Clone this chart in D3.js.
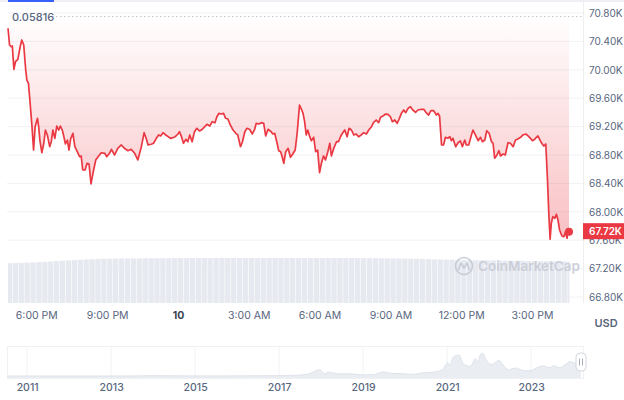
<!DOCTYPE html>
<html><head><meta charset="utf-8">
<script src="https://cdn.jsdelivr.net/npm/d3@7"></script>
<style>
html,body{margin:0;padding:0;background:#fff;}
svg{display:block;font-family:Inter,"Noto Sans",sans-serif;}
</style></head>
<body>
<svg id="c" width="624" height="400"></svg>
<script>
// ---------- DATA ----------
const priceTimes = ["09 16:48","09 16:52","09 16:56","09 16:59","09 17:03","09 17:07","09 17:13","09 17:19","09 17:23","09 17:28","09 17:33","09 17:36","09 17:40","09 17:45","09 17:49","09 17:53","09 17:57","09 18:03","09 18:06","09 18:09","09 18:14","09 18:19","09 18:23","09 18:28","09 18:34","09 18:38","09 18:42","09 18:47","09 18:52","09 18:57","09 19:01","09 19:06","09 19:10","09 19:14","09 19:19","09 19:23","09 19:27","09 19:33","09 19:38","09 19:44","09 19:50","09 19:54","09 19:58","09 20:04","09 20:09","09 20:14","09 20:19","09 20:24","09 20:31","09 20:37","09 20:45","09 20:54","09 20:59","09 21:06","09 21:11","09 21:19","09 21:27","09 21:36","09 21:44","09 21:53","09 22:01","09 22:10","09 22:18","09 22:27","09 22:34","09 22:40","09 22:44","09 22:52","09 22:58","09 23:05","09 23:11","09 23:16","09 23:22","09 23:29","09 23:35","09 23:41","09 23:47","09 23:53",
"10 00:00","10 00:04","10 00:09","10 00:14","10 00:20","10 00:25","10 00:30","10 00:36","10 00:42","10 00:48","10 00:55","10 01:02","10 01:08","10 01:14","10 01:21","10 01:27","10 01:34","10 01:39","10 01:44","10 01:50","10 01:56","10 02:01","10 02:07","10 02:13","10 02:20","10 02:27","10 02:32","10 02:39","10 02:44","10 02:50","10 02:55","10 03:02","10 03:09","10 03:15","10 03:19","10 03:26","10 03:32","10 03:38","10 03:43","10 03:49","10 03:57","10 04:01","10 04:06","10 04:12","10 04:16","10 04:21","10 04:25","10 04:29","10 04:34","10 04:40","10 04:46","10 04:52","10 04:58","10 05:03","10 05:09","10 05:14","10 05:18","10 05:22","10 05:26","10 05:30","10 05:35","10 05:39","10 05:45","10 05:50","10 05:55","10 06:00","10 06:05","10 06:10","10 06:15","10 06:21","10 06:26","10 06:30","10 06:36","10 06:43","10 06:48","10 06:54","10 06:59","10 07:04","10 07:10","10 07:15","10 07:21","10 07:27","10 07:33","10 07:39","10 07:46","10 07:52","10 07:59","10 08:05","10 08:12","10 08:17","10 08:24","10 08:30","10 08:35","10 08:41","10 08:48","10 08:54","10 09:00","10 09:05","10 09:11","10 09:17","10 09:22","10 09:28","10 09:34","10 09:39","10 09:45","10 09:51","10 09:57","10 10:04","10 10:10","10 10:19","10 10:25","10 10:31","10 10:37","10 10:43","10 10:50","10 10:57","10 11:01","10 11:05","10 11:10","10 11:15","10 11:20","10 11:26","10 11:31","10 11:35","10 11:39","10 11:46","10 11:52","10 11:58","10 12:03","10 12:09","10 12:13","10 12:19","10 12:26","10 12:30","10 12:36","10 12:43","10 12:49","10 12:54","10 13:00","10 13:05","10 13:11","10 13:17","10 13:21","10 13:25","10 13:31","10 13:36","10 13:40","10 13:46","10 13:52","10 13:59","10 14:05","10 14:12","10 14:18","10 14:24","10 14:31","10 14:37","10 14:44","10 14:50","10 14:56","10 15:01","10 15:07","10 15:11","10 15:15","10 15:21","10 15:26","10 15:30","10 15:35","10 15:39","10 15:43","10 15:46","10 15:49","10 15:53","10 15:58","10 16:02","10 16:06","10 16:10","10 16:16","10 16:21","10 16:25","10 16:29","10 16:32","10 16:34"];
const prices = [70585,70349,70325,70335,70007,70114,70148,70325,70420,70349,69997,69856,69810,69480,69199,68870,69199,69317,69199,69011,68832,68965,69152,69082,68917,68987,69152,69035,69208,69152,69208,69152,69058,68955,69011,68870,69021,69106,68917,68846,68776,68786,68589,68589,68683,68673,68392,68542,68730,68776,68832,68824,68776,68824,68880,68800,68894,68941,68894,68861,68880,68824,68730,68917,69114,69021,68941,68951,68965,69035,69082,69068,69114,69082,69058,69035,69044,69058,
69096,69128,69058,68965,69021,68987,69082,68987,69128,69176,69138,69162,69199,69232,69208,69269,69255,69339,69387,69377,69387,69317,69307,69223,69152,69106,69082,68917,68987,69128,69176,69162,69096,69162,69246,69237,69255,69246,69068,69162,69128,69096,69106,68965,68861,68846,68776,68683,68846,68894,68768,68814,68870,69106,69504,69444,69387,69269,69082,69152,69058,69001,69049,68846,68870,68551,68692,68786,68730,68846,68965,68786,68894,68987,68987,69068,69114,69152,69058,69176,69152,69082,69096,69058,69082,69114,69096,69152,69199,69255,69293,69255,69331,69349,69377,69373,69339,69269,69293,69246,69303,69387,69434,69396,69458,69480,69434,69401,69434,69444,69444,69396,69363,69424,69424,69363,69387,69349,68941,68941,69049,69035,69058,69001,69035,68917,68973,68997,68917,69011,68941,68941,69082,69152,69082,69001,69049,68987,69011,69142,69106,68987,68965,68754,68800,68861,68786,68814,68800,68973,68965,68917,69011,69025,69049,69082,69096,69068,69035,69001,69021,69049,69068,69001,68955,68927,68955,68494,67931,67613,67838,67931,67908,67965,67884,67744,67659,67649,67720,67627,67744,67720];

// 24h volume (billions USD), one value per 15 minutes starting 16:45
const volumeStart = "09 16:45";
const volumes = [39.8,40.0,40.1,40.3,40.6,40.9,41.2,41.5,41.9,42.3,42.6,43.0,43.3,43.6,43.8,44.0,
44.2,44.3,44.4,44.5,44.5,44.6,44.6,44.7,44.7,44.8,44.8,44.8,44.9,44.9,44.9,45.0,
45.0,45.0,45.0,45.1,45.1,45.1,45.1,45.0,45.0,45.0,45.0,45.0,45.1,45.1,45.1,45.0,
45.0,45.0,44.9,44.9,44.9,44.9,45.0,45.0,45.0,45.0,45.0,44.9,44.9,44.8,44.8,44.7,
44.7,44.6,44.5,44.4,44.3,44.2,44.0,43.9,43.7,43.6,43.4,43.3,43.2,43.1,43.0,42.9,
42.8,42.7,42.6,42.5,42.4,42.3,42.2,42.1,42.0,41.9,41.8,41.8,41.7,41.7,41.6,41.6];

const yTicks = [66800,67200,67600,68000,68400,68800,69200,69600,70000,70400,70800];
const xTickTimes = ["09 18:00","09 21:00","10 00:00","10 03:00","10 06:00","10 09:00","10 12:00","10 15:00"];
const xTickLabels = ["6:00 PM","9:00 PM","10","3:00 AM","6:00 AM","9:00 AM","12:00 PM","3:00 PM"];
const refValueLabel = "0.05816";
const lastPriceLabel = "67.72K";
const currencyLabel = "USD";

// long-range navigator history (BTC/USD)
const navDates = ["2010-07-15","2010-12-01","2011-06-10","2011-12-01","2012-08-15","2013-01-01","2013-04-10","2013-07-01","2013-12-01","2014-06-01","2015-01-15","2015-08-01","2016-01-01","2016-06-15","2017-01-01","2017-05-20","2017-09-01","2017-12-17","2018-02-05","2018-03-05","2018-06-15","2018-09-01","2018-12-15","2019-04-01","2019-06-26","2019-09-20","2019-12-15","2020-03-13","2020-06-01","2020-09-01","2020-11-20","2021-01-08","2021-01-25","2021-02-20","2021-03-13","2021-04-14","2021-05-19","2021-06-22","2021-07-20","2021-09-06","2021-09-25","2021-10-20","2021-11-10","2021-12-04","2022-01-22","2022-03-28","2022-05-10","2022-06-18","2022-08-15","2022-11-09","2022-12-31","2023-02-15","2023-04-14","2023-06-15","2023-07-14","2023-09-11","2023-10-25","2023-12-08","2024-01-23","2024-02-15","2024-03-10"];
const navPrices = [0.07,0.3,29,3,13,13,200,90,1100,620,200,280,430,700,1000,2100,4700,19000,7000,11500,6300,7000,3300,4100,12500,7400,7100,4900,9500,11900,18500,40000,31000,56000,61000,63500,37000,31000,29000,52000,42000,66000,68000,49000,35000,47000,30000,19000,24000,16000,16500,24500,30500,25000,31000,25000,34500,43700,39000,51000,68500];
const navYears = ["2011","2013","2015","2017","2019","2021","2023"];

// ---------- RENDER ----------
const svg = d3.select("#c");
const parseT = s => d3.timeParse("%Y-%m-%d %H:%M")("2024-03-" + s);
const data = priceTimes.map((t, i) => ({t: parseT(t), v: prices[i]}));

const x = d3.scaleTime().domain(d3.extent(data, d => d.t)).range([8, 569]);
const y = d3.scaleLinear().domain([66800, 70800]).range([297, 13]);
const axisX = 583;
const red = "#ea3943";
const gray = "#58667e";

// top bar
svg.append("line").attr("x1", 0).attr("x2", 624).attr("y1", 1).attr("y2", 1).attr("stroke", "#eef0f3").attr("stroke-width", 2);
svg.append("rect").attr("x", 8).attr("y", 0).attr("width", 46).attr("height", 2).attr("fill", "#3861fb");

// gridlines
svg.append("g").selectAll("line").data(yTicks).join("line")
  .attr("x1", 7).attr("x2", axisX).attr("y1", d => y(d)).attr("y2", d => y(d))
  .attr("stroke", "#f1f2f5").attr("stroke-width", 1);

// right boundary
svg.append("line").attr("x1", axisX + 0.5).attr("x2", axisX + 0.5).attr("y1", 0).attr("y2", 303)
  .attr("stroke", "#eceef2");

// gradient
const defs = svg.append("defs");
const grad = defs.append("linearGradient").attr("id", "g1").attr("gradientUnits", "userSpaceOnUse")
  .attr("x1", 0).attr("x2", 0).attr("y1", y(70800)).attr("y2", y(67600));
grad.append("stop").attr("offset", 0).attr("stop-color", red).attr("stop-opacity", 0.0);
grad.append("stop").attr("offset", 1).attr("stop-color", red).attr("stop-opacity", 0.32);

// volume bars
const vStart = parseT(volumeStart);
const vData = volumes.map((v, i) => ({t0: d3.timeMinute.offset(vStart, i * 15), t1: d3.timeMinute.offset(vStart, (i + 1) * 15), v}));
const yv = d3.scaleLinear().domain([0, 50]).range([303, 253]);
svg.append("g").selectAll("rect").data(vData).join("rect")
  .attr("x", d => Math.max(8, x(d.t0)))
  .attr("width", d => Math.max(0, Math.min(570, x(d.t1)) - Math.max(8, x(d.t0)) - 0.6))
  .attr("y", d => yv(d.v)).attr("height", d => yv(0) - yv(d.v))
  .attr("fill", "#e7e9f0");

// watermark
const wm = svg.append("g").attr("opacity", 0.9);
wm.append("circle").attr("cx", 464).attr("cy", 266).attr("r", 8.5).attr("fill", "none").attr("stroke", "#c3c8d3").attr("stroke-width", 1.6);
wm.append("path").attr("d", "M458.5,270 L461,263 L464,268 L467,263 L469.5,270").attr("fill", "none").attr("stroke", "#c3c8d3").attr("stroke-width", 1.6).attr("stroke-linejoin", "round");
wm.append("text").attr("x", 478).attr("y", 270.5).attr("font-size", 13.5).attr("font-weight", 600)
  .attr("fill", "#c8ccd6").text("CoinMarketCap");

// area fill (above line)
const area = d3.area().x(d => x(d.t)).y0(y(70800)).y1(d => y(d.v));
svg.append("path").datum(data).attr("d", area).attr("fill", "url(#g1)");

// dotted reference line
svg.append("line").attr("x1", 52).attr("x2", axisX).attr("y1", 16.5).attr("y2", 16.5)
  .attr("stroke", "#c4c8d0").attr("stroke-dasharray", "1.5,2.5");
svg.append("text").attr("x", 12).attr("y", 20.5).attr("font-size", 11).attr("font-weight", 500)
  .attr("fill", gray).text(refValueLabel);

// price line
const line = d3.line().x(d => x(d.t)).y(d => y(d.v));
svg.append("path").datum(data).attr("d", line).attr("fill", "none").attr("stroke", red)
  .attr("stroke-width", 1.7).attr("stroke-linejoin", "round");

// end dot
const last = data[data.length - 1];
svg.append("circle").attr("cx", x(last.t)).attr("cy", y(last.v)).attr("r", 4).attr("fill", red);

// y axis (right)
const yAxis = d3.axisRight(y).tickValues(yTicks).tickSize(0).tickPadding(6)
  .tickFormat(d => d3.format(".2f")(d / 1000) + "K");
const gy = svg.append("g").attr("transform", `translate(${axisX},0)`).call(yAxis);
gy.select(".domain").remove();
gy.selectAll("text").attr("font-size", 10).attr("fill", gray).attr("font-family", "Inter,sans-serif");

// last price badge
svg.append("rect").attr("x", axisX).attr("y", y(last.v) - 8.5).attr("width", 624 - axisX).attr("height", 16).attr("fill", red);
svg.append("text").attr("x", axisX + 6).attr("y", y(last.v) + 3.5).attr("font-size", 10).attr("font-weight", 600)
  .attr("fill", "#fff").text(lastPriceLabel);

// x axis
const xTicks = xTickTimes.map(parseT);
const xAxis = d3.axisBottom(x).tickValues(xTicks).tickSize(0).tickPadding(9)
  .tickFormat((d, i) => xTickLabels[i]);
const gx = svg.append("g").attr("transform", "translate(0,303)").call(xAxis);
gx.select(".domain").remove();
gx.selectAll("text").attr("font-size", 10.5).attr("fill", gray).attr("font-family", "Inter,sans-serif")
  .attr("font-weight", (d, i) => xTickLabels[i] === "10" ? 700 : 400)
  .attr("fill", (d, i) => xTickLabels[i] === "10" ? "#3c4654" : gray);

svg.append("text").attr("x", 606).attr("y", 326.5).attr("text-anchor", "middle").attr("font-size", 11)
  .attr("font-weight", 600).attr("fill", gray).text(currencyLabel);

// ---------- NAVIGATOR ----------
const pD = d3.timeParse("%Y-%m-%d");
const nav = navDates.map((d, i) => ({t: pD(d), v: navPrices[i]}));
const xn = d3.scaleTime().domain([pD("2010-07-10"), pD("2024-03-10")]).range([7, 581]);
const yn = d3.scaleLinear().domain([0, 100000]).range([376, 343]);
const navTop = 346, navBot = 378;
svg.append("rect").attr("x", 7.5).attr("y", navTop + 0.5).attr("width", 576).attr("height", navBot - navTop)
  .attr("fill", "none").attr("stroke", "#eff1f4");
svg.append("g").selectAll("line").data(navYears).join("line")
  .attr("x1", d => xn(pD(d + "-01-01"))).attr("x2", d => xn(pD(d + "-01-01")))
  .attr("y1", navTop).attr("y2", navBot).attr("stroke", "#f1f3f6");
svg.append("path").datum(nav)
  .attr("d", d3.area().x(d => xn(d.t)).y0(navBot).y1(d => yn(d.v)).curve(d3.curveMonotoneX))
  .attr("fill", "#eaedf2");
svg.append("path").datum(nav)
  .attr("d", d3.line().x(d => xn(d.t)).y(d => yn(d.v)).curve(d3.curveMonotoneX))
  .attr("fill", "none").attr("stroke", "#dfe3ea").attr("stroke-width", 1);
const xnAxis = d3.axisBottom(xn).tickValues(navYears.map(d => pD(d + "-01-01"))).tickSize(0).tickPadding(6)
  .tickFormat((d, i) => navYears[i]);
const gn = svg.append("g").attr("transform", `translate(0,${navBot})`).call(xnAxis);
gn.select(".domain").remove();
gn.selectAll("text").attr("font-size", 10.5).attr("font-weight", 500).attr("fill", gray).attr("font-family", "Inter,sans-serif");

// handle
const hx = xn(pD("2024-03-10"));
svg.append("rect").attr("x", hx - 5).attr("y", 353).attr("width", 10).attr("height", 18).attr("rx", 4)
  .attr("fill", "#fff").attr("stroke", "#d3d7df");
svg.append("line").attr("x1", hx - 1.5).attr("x2", hx - 1.5).attr("y1", 358.5).attr("y2", 365.5).attr("stroke", "#a6adbb");
svg.append("line").attr("x1", hx + 1.5).attr("x2", hx + 1.5).attr("y1", 358.5).attr("y2", 365.5).attr("stroke", "#a6adbb");
</script>
</body></html>
